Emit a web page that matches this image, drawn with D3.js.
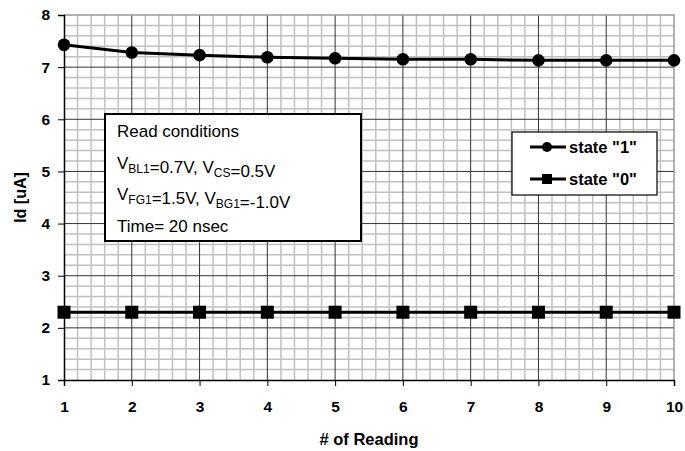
<!DOCTYPE html>
<html>
<head>
<meta charset="utf-8">
<script src="https://cdn.jsdelivr.net/npm/d3@7"></script>
<style>
  body { margin: 0; background: #fff; }
  svg { display: block; font-family: Arial, "Liberation Sans", sans-serif; }
</style>
</head>
<body>
<div id="chart"></div>
<script>
const readings = [1, 2, 3, 4, 5, 6, 7, 8, 9, 10];
const state1 = [7.43, 7.28, 7.23, 7.19, 7.17, 7.15, 7.15, 7.13, 7.13, 7.13];
const state0 = [2.30, 2.30, 2.30, 2.30, 2.30, 2.30, 2.30, 2.30, 2.30, 2.30];
const yTicks = [1, 2, 3, 4, 5, 6, 7, 8];
const seriesNames = ['state "1"', 'state "0"'];

const width = 685, height = 451;
const margin = { top: 15, right: 11, bottom: 71, left: 64 };

const svg = d3.select("#chart").append("svg")
    .attr("width", width)
    .attr("height", height);

const x = d3.scaleLinear().domain([1, 10]).range([margin.left, width - margin.right]);
const y = d3.scaleLinear().domain([1, 8]).range([height - margin.bottom, margin.top]);

// minor grid every 0.2
const minorX = d3.range(1, 10.001, 0.2).filter(v => Math.abs(v - Math.round(v)) > 0.01);
const minorY = d3.range(1, 8.001, 0.2).filter(v => Math.abs(v - Math.round(v)) > 0.01);

const grid = svg.append("g");
grid.selectAll(".mx").data(minorX).enter().append("line")
    .attr("x1", d => x(d)).attr("x2", d => x(d))
    .attr("y1", y(8)).attr("y2", y(1))
    .attr("stroke", "#c0c0c0").attr("stroke-width", 1.5);
grid.selectAll(".my").data(minorY).enter().append("line")
    .attr("x1", x(1)).attr("x2", x(10))
    .attr("y1", d => y(d)).attr("y2", d => y(d))
    .attr("stroke", "#c0c0c0").attr("stroke-width", 1.5);

// major grid
grid.selectAll(".Mx").data(readings.slice(1, -1)).enter().append("line")
    .attr("x1", d => x(d)).attr("x2", d => x(d))
    .attr("y1", y(8)).attr("y2", y(1))
    .attr("stroke", "#333").attr("stroke-width", 1);
grid.selectAll(".My").data(yTicks.slice(1, -1)).enter().append("line")
    .attr("x1", x(1)).attr("x2", x(10))
    .attr("y1", d => y(d)).attr("y2", d => y(d))
    .attr("stroke", "#333").attr("stroke-width", 1);

// top / right border
svg.append("path")
    .attr("d", `M${x(1)},${y(8)}H${x(10)}V${y(1)}`)
    .attr("fill", "none").attr("stroke", "#999").attr("stroke-width", 1.5);

// axes
const xAxis = svg.append("g")
    .attr("transform", `translate(0,${y(1)})`)
    .call(d3.axisBottom(x).tickValues(readings).tickFormat(d3.format("d")).tickSize(6).tickPadding(15));
const yAxis = svg.append("g")
    .attr("transform", `translate(${x(1)},0)`)
    .call(d3.axisLeft(y).tickValues(yTicks).tickFormat(d3.format("d")).tickSize(6).tickPadding(8));

[xAxis, yAxis].forEach(a => {
    a.select(".domain").attr("stroke", "#000").attr("stroke-width", 1.5);
    a.selectAll(".tick line").attr("stroke", "#000").attr("stroke-width", 1);
    a.selectAll(".tick text")
        .attr("fill", "#000")
        .style("font-size", "15.5px")
        .style("font-weight", "bold")
        .style("font-family", "Arial, 'Liberation Sans', sans-serif");
});

// axis titles
svg.append("text")
    .attr("x", (x(1) + x(10)) / 2)
    .attr("y", 445)
    .attr("text-anchor", "middle")
    .style("font-size", "16.5px")
    .style("font-weight", "bold")
    .text("# of Reading");

svg.append("text")
    .attr("transform", `translate(26,${(y(1) + y(8)) / 2}) rotate(-90)`)
    .attr("text-anchor", "middle")
    .style("font-size", "16px")
    .style("font-weight", "bold")
    .text("Id [uA]");

// series
const line = d3.line().x((d, i) => x(readings[i])).y(d => y(d));

svg.append("path").datum(state1)
    .attr("fill", "none").attr("stroke", "#000").attr("stroke-width", 3)
    .attr("d", line);
svg.append("path").datum(state0)
    .attr("fill", "none").attr("stroke", "#000").attr("stroke-width", 3)
    .attr("d", line);

svg.selectAll(".c1").data(state1).enter().append("circle")
    .attr("cx", (d, i) => x(readings[i]))
    .attr("cy", d => y(d))
    .attr("r", 6.3)
    .attr("fill", "#000");

svg.selectAll(".s0").data(state0).enter().append("rect")
    .attr("x", (d, i) => x(readings[i]) - 6.5)
    .attr("y", d => y(d) - 6.5)
    .attr("width", 13).attr("height", 13)
    .attr("fill", "#000");

// read conditions box
const box = svg.append("g");
box.append("rect")
    .attr("x", 105).attr("y", 114)
    .attr("width", 256).attr("height", 127)
    .attr("fill", "#fff").attr("stroke", "#000").attr("stroke-width", 2);

const boxText = box.append("g").style("font-size", "17px");
boxText.append("text").attr("x", 117).attr("y", 137).text("Read conditions");

function subLine(yPos, parts) {
    const t = boxText.append("text").attr("x", 117).attr("y", yPos);
    parts.forEach(([str, sub]) => {
        if (sub) {
            t.append("tspan").attr("dy", 4).style("font-size", "12px").text(str);
            t.append("tspan").attr("dy", -4).text("");
        } else {
            t.append("tspan").text(str);
        }
    });
}
subLine(169, [["V"], ["BL1", true], ["=0.7V, V"], ["CS", true], ["=0.5V"]]);
subLine(200, [["V"], ["FG1", true], ["=1.5V, V"], ["BG1", true], ["=-1.0V"]]);
boxText.append("text").attr("x", 117).attr("y", 232).text("Time= 20 nsec");

// legend
const legend = svg.append("g");
legend.append("rect")
    .attr("x", 512).attr("y", 132)
    .attr("width", 145).attr("height", 63)
    .attr("fill", "#fff").attr("stroke", "#000").attr("stroke-width", 1.2);

const legendRows = [
    { name: seriesNames[0], yPos: 147, marker: "circle" },
    { name: seriesNames[1], yPos: 179, marker: "square" }
];
legendRows.forEach(r => {
    legend.append("line")
        .attr("x1", 530).attr("x2", 566)
        .attr("y1", r.yPos).attr("y2", r.yPos)
        .attr("stroke", "#000").attr("stroke-width", 3);
    if (r.marker === "circle") {
        legend.append("circle").attr("cx", 547).attr("cy", r.yPos).attr("r", 5).attr("fill", "#000");
    } else {
        legend.append("rect").attr("x", 542).attr("y", r.yPos - 5).attr("width", 10).attr("height", 10).attr("fill", "#000");
    }
    legend.append("text")
        .attr("x", 569).attr("y", r.yPos + 6)
        .style("font-size", "16.5px")
        .style("font-weight", "bold")
        .text(r.name);
});
</script>
</body>
</html>
